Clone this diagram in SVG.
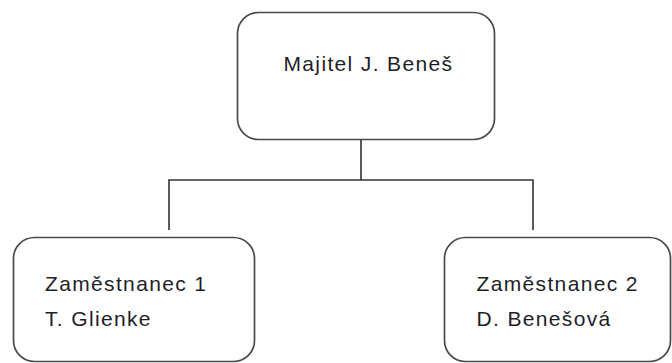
<svg xmlns="http://www.w3.org/2000/svg" width="672" height="363" viewBox="0 0 672 363">
<style>
.box{fill:#fff;stroke:#4a4a4a;stroke-width:1.7}
.conn{fill:none;stroke:#333;stroke-width:1.6}
.t{font-family:"Liberation Sans",Arial,sans-serif;font-size:21px;letter-spacing:1.35px;fill:#1e1e28}
</style>
<rect width="672" height="363" fill="#fff"/>
<g id="connectors">
<path class="conn" d="M361 139 V180 M169 230 V180 H533 V230"/>
</g>
<g id="owner">
<rect class="box" x="237.5" y="12.5" width="257" height="127" rx="21"/>
<text class="t" x="283.5" y="70.5">Majitel J. Beneš</text>
</g>
<g id="employee1">
<rect class="box" x="13.5" y="237.5" width="241" height="124" rx="21"/>
<text class="t" x="45" y="291">Zaměstnanec 1</text>
<text class="t" x="45" y="326">T. Glienke</text>
</g>
<g id="employee2">
<rect class="box" x="444.5" y="237.5" width="226" height="124" rx="21"/>
<text class="t" x="476.5" y="291">Zaměstnanec 2</text>
<text class="t" x="476.5" y="326">D. Benešová</text>
</g>
</svg>
